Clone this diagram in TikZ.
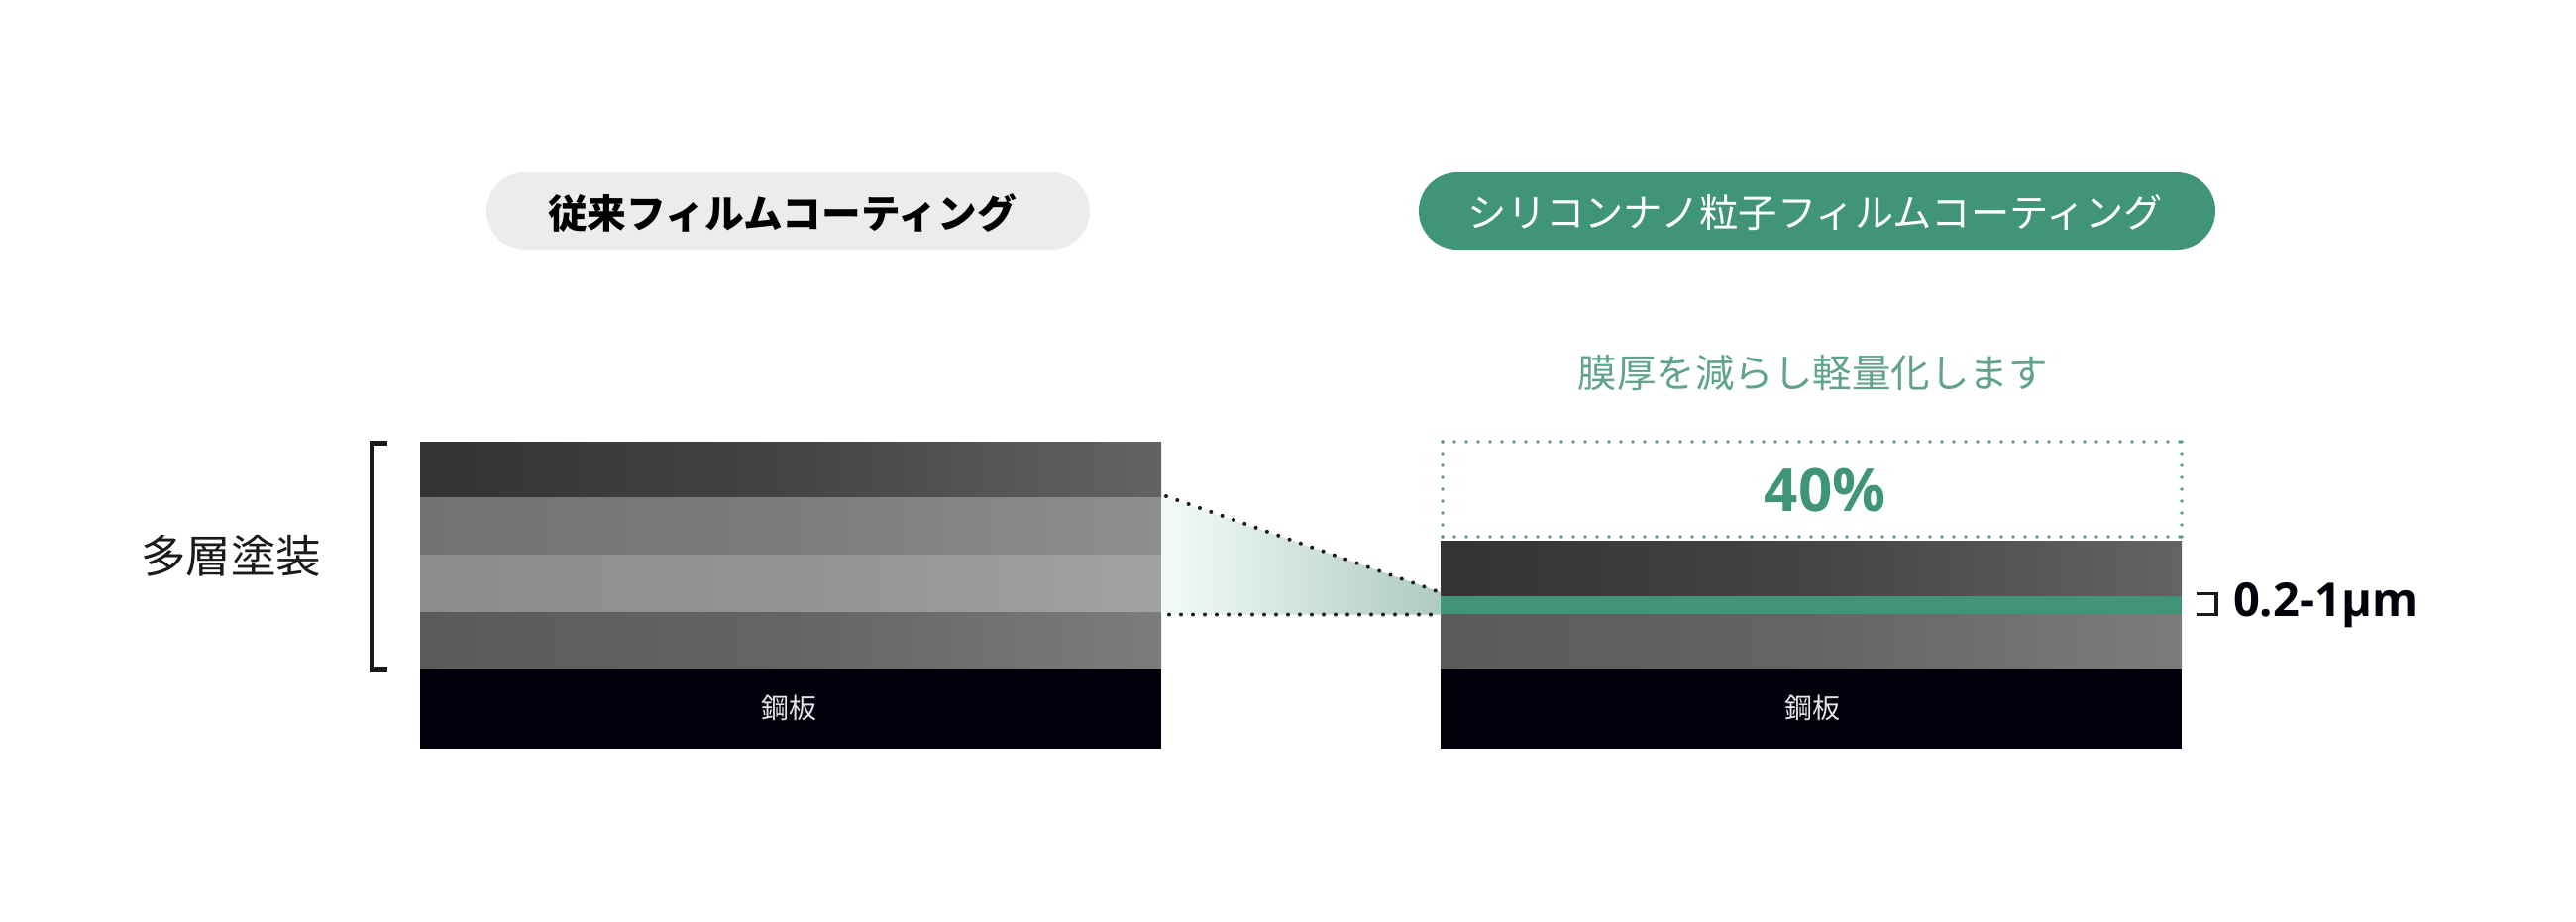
\documentclass[tikz,border=0pt]{standalone}
\usepackage{fontspec}
\setmainfont{Noto Sans CJK JP}
\newfontfamily\jpblack{Noto Sans CJK JP Black}
\newfontfamily\latinbold{Open Sans}[BoldFont=Open Sans Bold]
\definecolor{tealmain}{HTML}{409478}
\definecolor{tealtext}{HTML}{5FA38D}
\definecolor{steel}{HTML}{00010A}
\definecolor{pillgray}{HTML}{ECECEC}
\definecolor{ink}{HTML}{1A1A1A}
\definecolor{dotgreen}{HTML}{4F9A82}
\definecolor{aL}{HTML}{333333}\definecolor{aM}{HTML}{444444}\definecolor{aR}{HTML}{636363}
\definecolor{bL}{HTML}{727272}\definecolor{bM}{HTML}{7C7C7C}\definecolor{bR}{HTML}{8E8E8E}
\definecolor{cL}{HTML}{8C8C8C}\definecolor{cM}{HTML}{939393}\definecolor{cR}{HTML}{A2A2A2}
\definecolor{dL}{HTML}{5A5A5A}\definecolor{dM}{HTML}{646464}\definecolor{dR}{HTML}{7C7C7C}
\definecolor{wedgeL}{HTML}{F3FBF8}\definecolor{wedgeR}{HTML}{AECBC0}
\tikzset{
  x=1pt,y=-1pt,
  band/.style={rectangle,inner sep=0pt,outer sep=0pt,anchor=north west,draw=none},
  pill/.style={rectangle,rounded corners=39pt,inner sep=0pt,outer sep=0pt,minimum height=78pt,anchor=west},
  dotline/.style={line width=4pt,line cap=round,dash pattern=on 0pt off #1},
  dotline/.default=12pt,
  boxdots/.style={dotgreen,line width=3.6pt,line cap=round,dash pattern=on 0pt off 12pt},
  plainlabel/.style={inner sep=0pt,outer sep=0pt},
}
\begin{document}
\begin{tikzpicture}
\useasboundingbox (0,0) rectangle (2600,930);
\fill[white] (0,0) rectangle (2600,930);
% pills
\node[pill,fill=pillgray,minimum width=609pt] (p1) at (491,213) {};
\node[plainlabel,font=\jpblack\fontsize{39.7}{39.7}\selectfont,text=black] (p1t) at (789.5,215) {従来フィルムコーティング};
\node[pill,fill=tealmain,minimum width=804pt] (p2) at (1432,213) {};
\node[plainlabel,font=\fontsize{39.3}{39.3}\selectfont,text=white] (p2t) at (1832.5,214.5) {シリコンナノ粒子フィルムコーティング};
% left stack
\node[band,minimum width=748pt,minimum height=56pt,left color=aL,right color=aR,middle color=aM] (a1) at (424,446) {};
\node[band,minimum width=748pt,minimum height=58pt,left color=bL,right color=bR,middle color=bM] (a2) at (424,502) {};
\node[band,minimum width=748pt,minimum height=58pt,left color=cL,right color=cR,middle color=cM] (a3) at (424,560) {};
\node[band,minimum width=748pt,minimum height=58pt,left color=dL,right color=dR,middle color=dM] (a4) at (424,618) {};
\node[band,minimum width=748pt,minimum height=80pt,fill=steel] (a5) at (424,676) {};
\node[plainlabel,font=\fontsize{28}{28}\selectfont,text=white!90!black] (a5t) at (796.5,715) {鋼板};
% bracket
\coordinate (brT) at (391,447.5);
\coordinate (brB) at (391,676.5);
\draw[ink,line width=4.5pt] (brT) -- ++(-16,0) |- (brB);
\node[plainlabel,font=\fontsize{45.5}{45.5}\selectfont,text=ink] (multi) at (233,561) {多層塗装};
% right stack
\node[band,minimum width=748pt,minimum height=56pt,left color=aL,right color=aR,middle color=aM] (b1) at (1454,546) {};
\node[band,minimum width=748pt,minimum height=18pt,fill=tealmain] (b2) at (1454,602) {};
\node[band,minimum width=748pt,minimum height=56pt,left color=dL,right color=dR,middle color=dM] (b3) at (1454,620) {};
\node[band,minimum width=748pt,minimum height=80pt,fill=steel] (b4) at (1454,676) {};
\node[plainlabel,font=\fontsize{28}{28}\selectfont,text=white!90!black] (b4t) at (1829.5,714.5) {鋼板};
% wedge
\shade[left color=wedgeL,right color=wedgeR] (1172,500) -- (1454,598) -- (1454,620.5) -- (1172,620.5) -- cycle;
\coordinate (wTL) at (1177,501);
\coordinate (wTR) at (1449,596.5);
\coordinate (wBL) at (1180,620.5);
\coordinate (wBR) at (1450,620.5);
\draw[black!90,dotline=12pt] (wTL) -- (wTR);
\draw[black!90,dotline=12pt] (wBL) -- (wBR);
% dotted box
\coordinate (boxA) at (1456,446);
\coordinate (boxB) at (2202,446);
\coordinate (boxC) at (2202,542);
\coordinate (boxD) at (1456,542);
\draw[boxdots] (boxA) -- (boxB);
\draw[boxdots] (boxB) -- (boxC);
\draw[boxdots] (boxD) -- (boxC);
\draw[boxdots] (boxA) -- (boxD);
\node[plainlabel,font=\latinbold\bfseries\fontsize{60}{60}\selectfont,text=tealmain] (pct) at (1842,495) {40\%};
\node[plainlabel,font=\fontsize{39.5}{39.5}\selectfont,text=tealtext] (sub) at (1829.5,377) {膜厚を減らし軽量化します};
% small bracket and thickness
\coordinate (sbT) at (2217,599.5);
\coordinate (sbB) at (2217,620.5);
\draw[ink,line width=3.4pt] (sbT) -- ++(20,0) |- (sbB);
\node[plainlabel,font=\latinbold\bfseries\fontsize{47}{47}\selectfont,text=steel,anchor=west] (thick) at (2254,611) {0.2-1μm};
\end{tikzpicture}
\end{document}
